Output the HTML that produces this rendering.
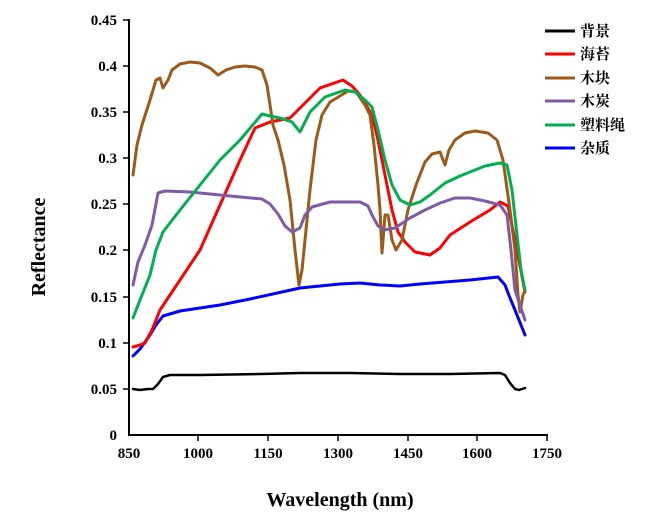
<!DOCTYPE html>
<html><head><meta charset="utf-8"><style>
body{margin:0;background:#fff;width:650px;height:517px;overflow:hidden}
svg text{font-family:"Liberation Serif","Noto Serif CJK SC",serif;font-weight:bold}
</style></head><body>
<svg width="650" height="517" viewBox="0 0 650 517" xmlns="http://www.w3.org/2000/svg">
<g stroke="#000" stroke-width="2" fill="none">
<line x1="129" y1="19" x2="129" y2="436"/>
<line x1="128" y1="435" x2="548" y2="435"/>
<g stroke-width="1.5">
<line x1="123" y1="20" x2="129" y2="20"/><line x1="123" y1="66" x2="129" y2="66"/>
<line x1="123" y1="112" x2="129" y2="112"/><line x1="123" y1="158" x2="129" y2="158"/>
<line x1="123" y1="204" x2="129" y2="204"/><line x1="123" y1="250" x2="129" y2="250"/>
<line x1="123" y1="297" x2="129" y2="297"/><line x1="123" y1="343" x2="129" y2="343"/>
<line x1="123" y1="389" x2="129" y2="389"/>
<line x1="198" y1="435" x2="198" y2="441"/><line x1="268" y1="435" x2="268" y2="441"/>
<line x1="338" y1="435" x2="338" y2="441"/><line x1="408" y1="435" x2="408" y2="441"/>
<line x1="477" y1="435" x2="477" y2="441"/><line x1="547" y1="435" x2="547" y2="441"/>
</g></g>
<g font-size="15" text-anchor="end">
<text x="117" y="25">0.45</text><text x="117" y="71">0.4</text><text x="117" y="117">0.35</text>
<text x="117" y="163">0.3</text><text x="117" y="209">0.25</text><text x="117" y="255">0.2</text>
<text x="117" y="302">0.15</text><text x="117" y="348">0.1</text><text x="117" y="394">0.05</text>
<text x="117" y="440">0</text></g>
<g font-size="15" text-anchor="middle">
<text x="129" y="458">850</text><text x="198" y="458">1000</text><text x="268" y="458">1150</text>
<text x="338" y="458">1300</text><text x="408" y="458">1450</text><text x="477" y="458">1600</text><text x="547" y="458">1750</text></g>
<text x="340" y="506" font-size="20" text-anchor="middle">Wavelength (nm)</text>
<text transform="translate(45,247) rotate(-90)" font-size="20" text-anchor="middle">Reflectance</text>
<g fill="none" stroke-width="3" stroke-linejoin="round" stroke-linecap="round">
<polyline stroke="#000" stroke-width="2.5" points="133,389 140,390 148,389 153,389 158,384 163,377 170,375 200,375 260,374 300,373 350,373 400,374 450,374 500,373 505,375 510,383 515,389 519,390 522,389 525,388"/>
<polyline stroke="#0000ff" points="133,356 140,349 150,335 156,325 163,316 180,311 220,305 250,299 300,288 340,284 360,283 380,285 400,286 420,284 470,280 498,277 505,285 510,298 515,310 525,335"/>
<polyline stroke="#ff0000" points="133,347 140,345 145,343 152,330 160,310 180,280 200,250 220,205 240,160 255,128 270,122 290,118 300,108 320,88 343,80 352,86 360,95 372,115 378,140 385,175 392,210 398,232 405,242 415,252 430,255 440,248 450,235 470,222 490,210 500,202 508,206 515,240 525,292"/>
<polyline stroke="#9c5a1a" points="133,175 137,145 142,125 150,100 156,80 160,78 163,88 168,80 172,70 180,64 190,62 200,63 210,68 218,75 226,70 235,67 245,66 255,67 262,70 267,85 273,125 278,140 284,165 290,200 295,250 299,285 302,270 306,230 310,190 316,140 322,115 330,102 340,96 348,91 356,92 365,105 370,115 374,145 378,185 380,210 382,253 385,215 388,215 392,240 396,250 402,240 408,210 416,185 425,162 432,154 440,152 445,165 449,150 455,140 465,133 475,131 488,133 497,140 503,160 510,210 515,250 518,295 520,312 523,295 525,290"/>
<polyline stroke="#7d5ba6" points="133,285 138,262 145,245 152,225 158,193 165,191 190,192 230,196 262,199 270,204 278,214 285,226 292,232 300,228 305,215 312,207 330,202 360,202 368,206 372,215 378,226 384,230 395,228 410,218 425,210 440,203 455,198 470,198 485,201 500,205 507,215 511,250 515,290 525,320"/>
<polyline stroke="#00b050" points="133,318 140,300 150,275 156,250 163,232 180,210 200,185 220,160 240,140 262,114 270,116 280,118 292,122 300,132 310,112 325,97 345,90 355,92 365,100 372,107 378,130 385,160 392,185 400,200 410,205 420,202 430,195 445,183 460,176 470,172 485,166 500,163 507,165 512,190 517,235 521,270 525,290"/>
</g>
<g stroke-width="3">
<line x1="545" y1="31" x2="575" y2="31" stroke="#000"/>
<line x1="545" y1="54" x2="575" y2="54" stroke="#ff0000"/>
<line x1="545" y1="78" x2="575" y2="78" stroke="#9c5a1a"/>
<line x1="545" y1="101" x2="575" y2="101" stroke="#7d5ba6"/>
<line x1="545" y1="125" x2="575" y2="125" stroke="#00b050"/>
<line x1="545" y1="148" x2="575" y2="148" stroke="#0000ff"/>
</g>
<g font-size="15">
<text x="580" y="36">背景</text><text x="580" y="59">海苔</text><text x="580" y="83">木块</text>
<text x="580" y="106">木炭</text><text x="580" y="130">塑料绳</text><text x="580" y="153">杂质</text></g>
</svg>
</body></html>
